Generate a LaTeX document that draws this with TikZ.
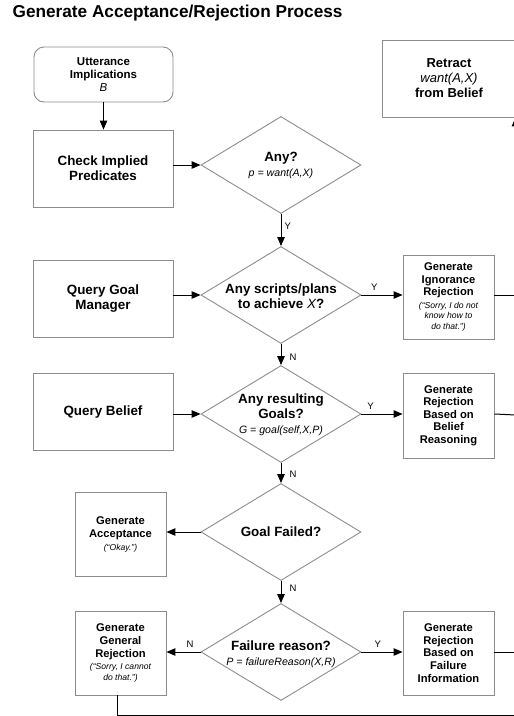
\documentclass[tikz,border=0pt]{standalone}
\usepackage{fontspec}
\setmainfont{Liberation Sans}
\usetikzlibrary{shapes.geometric,arrows.meta}
\definecolor{bgray}{RGB}{140,140,140}
\newcommand\bigtxt{\bfseries\fontsize{13.4}{15}\selectfont}
\newcommand\smtxt{\bfseries\fontsize{11.2}{12.6}\selectfont}
\newcommand\qtx[1]{{\mdseries\itshape\fontsize{8.6}{10.5}\selectfont #1}}
\newcommand\subtx[1]{{\mdseries\itshape\fontsize{10.6}{12}\selectfont #1}}
\begin{document}
\begin{tikzpicture}[x=1pt,y=-1pt,
 box/.style={draw=bgray,line width=0.9pt,minimum width=140pt,minimum height=77pt,inner sep=0pt,align=center,font=\bigtxt},
 sbox/.style={draw=bgray,line width=0.9pt,minimum width=91pt,minimum height=84pt,inner sep=0pt,align=center,font=\smtxt},
 dia/.style={draw=bgray,line width=0.9pt,shape=diamond,minimum width=160pt,minimum height=97pt,inner sep=0pt},
 dtxt/.style={align=center,font=\bigtxt,inner sep=0pt},
 arr/.style={draw=black,line width=1pt,-{Triangle[length=9pt,width=7.5pt]}},
 ln/.style={draw=black,line width=1pt},
 lbl/.style={font=\fontsize{9.5}{11}\selectfont,inner sep=0pt}]
\clip (0,0) rectangle (514,716);
\node[anchor=west,font=\bfseries\fontsize{17.2}{20}\selectfont,inner sep=0pt] (title) at (12.5,13.5) {Generate Acceptance/Rejection Process};

% left column
\node[box,rounded corners=10pt,minimum width=139pt,minimum height=55pt,font=\bfseries\fontsize{11.5}{13}\selectfont] (utt) at (103.5,74.5) {Utterance\\Implications\\{\mdseries\itshape B}};
\node[box] (chk) at (103,168.5) {Check Implied\\Predicates};
\node[box] (qgm) at (103,298.5) {Query Goal\\Manager};
\node[box] (qb) at (103,412) {Query Belief};
\node[sbox] (acc) at (120.5,534.5) {Generate\\Acceptance\\\qtx{(“Okay.”)}};
\node[sbox] (gen) at (120.5,653) {Generate\\General\\Rejection\\\qtx{(“Sorry, I cannot}\\[-2pt]\qtx{do that.”)}};

% diamonds
\node[dia] (d1) at (281,165) {};
\node[dia] (d2) at (281,295) {};
\node[dia] (d3) at (281,414) {};
\node[dia] (d4) at (281,532) {};
\node[dia] (d5) at (281,652) {};
\node[dtxt] (t1) at (281,165) {Any?\\\subtx{p = want(A,X)}};
\node[dtxt] (t2) at (281,296) {Any scripts/plans\\to achieve {\mdseries\itshape X}?};
\node[dtxt] (t3) at (281,415) {Any resulting\\Goals?\\\subtx{G = goal(self,X,P)}};
\node[dtxt] (t4) at (281,532) {Goal Failed?};
\node[dtxt] (t5) at (281,654) {Failure reason?\\\subtx{P = failureReason(X,R)}};

% right column
\node[box,minimum width=134pt,minimum height=77pt,font=\bfseries\fontsize{13}{15}\selectfont] (ret) at (449,78.5) {Retract\\{\mdseries\itshape want(A,X)}\\from Belief};
\node[sbox] (ign) at (448.5,297) {Generate\\Ignorance\\Rejection\\\qtx{(“Sorry, I do not}\\[-2pt]\qtx{know how to}\\[-2pt]\qtx{do that.”)}};
\node[sbox,minimum height=85pt] (br) at (448.5,415.5) {Generate\\Rejection\\Based on\\Belief\\Reasoning};
\node[sbox] (fi) at (448.5,653) {Generate\\Rejection\\Based on\\Failure\\Information};

% off-canvas return path
\coordinate (r1) at (515.5,295);
\coordinate (r2) at (515.5,415);
\coordinate (r3) at (515.5,652);
\coordinate (r4) at (515.5,715);

% connectors
\draw[arr] (utt.south) -- (utt.south |- chk.north);
\draw[arr] (chk.east |- d1.west) -- (d1.west);
\draw[arr] (d1.south) -- node[lbl,right=3pt,pos=0.38]{Y} (d2.north);
\draw[arr] (qgm.east |- d2.west) -- (d2.west);
\draw[arr] (d2.east) -- node[lbl,above=4pt,pos=0.31]{Y} (ign.west |- d2.east);
\draw[ln] (ign.east |- d2.east) -- (r1);
\draw[arr] (d2.south) -- node[lbl,right=8pt,pos=0.62]{N} (d3.north);
\draw[arr] (qb.east |- d3.west) -- (d3.west);
\draw[arr] (d3.east) -- node[lbl,above=4pt,pos=0.22]{Y} (br.west |- d3.east);
\draw[ln] (br.east |- d3.east) -- (r2);
\draw[arr] (d3.south) -- node[lbl,right=8pt,pos=0.57]{N} (d4.north);
\draw[arr] (d4.west) -- (acc.east |- d4.west);
\draw[arr] (d4.south) -- node[lbl,right=8pt,pos=0.32]{N} (d5.north);
\draw[arr] (d5.west) -- node[lbl,above=4pt,pos=0.31]{N} (gen.east |- d5.west);
\draw[arr] (d5.east) -- node[lbl,above=4pt,pos=0.4]{Y} (fi.west |- d5.east);
\draw[ln] (fi.east |- d5.east) -- (r3);
\draw[ln] ([xshift=-3pt]gen.south) |- (r4);
\draw[arr] (r4) -- (r4 |- ret.south);
\end{tikzpicture}
\end{document}
